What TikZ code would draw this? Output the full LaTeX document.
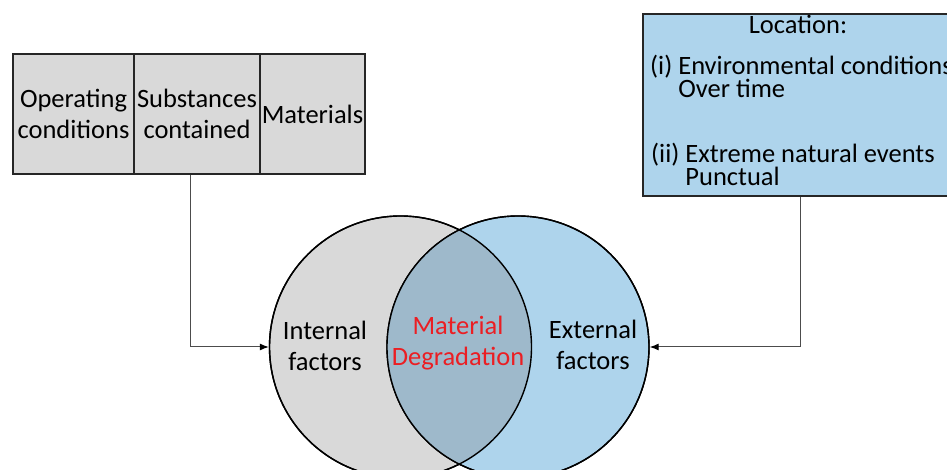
\documentclass[tikz,border=0pt]{standalone}
\usepackage{fontspec}
\setmainfont{Carlito}
\usetikzlibrary{arrows.meta}
\definecolor{boxgray}{RGB}{217,217,217}
\definecolor{boxblue}{RGB}{174,212,236}
\definecolor{overlap}{RGB}{158,185,203}
\definecolor{degred}{RGB}{235,30,35}
\begin{document}
\begin{tikzpicture}[x=1pt,y=1pt,
  txt/.style={font=\fontsize{26.5}{31}\selectfont, inner sep=0pt},
  item/.style={font=\fontsize{26.5}{23}\selectfont, inner sep=0pt, align=left, anchor=north west},
  cell/.style={draw=black!85, line width=1.2pt, fill=boxgray, minimum height=120pt,
    inner sep=0pt, align=center, font=\fontsize{26.5}{31}\selectfont},
  venn/.style={circle, draw=black, line width=1.4pt, minimum size=262pt, inner sep=0pt},
  conn/.style={draw=black!70, line width=1pt, -{Latex[length=9pt,width=7pt,color=black]}}]
\clip (0,0) rectangle (947,470);
\fill[white] (0,0) rectangle (947,470);
% left box
\node[cell, minimum width=121pt] (A) at (73.5,356) {Operating\\conditions};
\node[cell, minimum width=126pt] (B) at (197,356) {Substances\\contained};
\node[cell, minimum width=105pt] (C) at (312.5,356) {Materials};
% right box
\node[draw=black!85, line width=1.2pt, fill=boxblue, minimum width=310pt,
  minimum height=182pt, inner sep=0pt] (R) at (798,365) {};
\node[txt, anchor=base] (loc) at (798,436) {Location:};
\node[item] (i1) at (650,415) {(i) Environmental conditions\\\hphantom{(i) }Over time};
\node[item] (ii1) at (651,327) {(ii) Extreme natural events\\\hphantom{(ii) }Punctual};
% venn
\node[venn, fill=boxgray] (c1) at (400.5,123) {};
\node[venn, fill=boxblue] (c2) at (518,123) {};
\begin{scope}
  \clip (400.5,123) circle (131pt);
  \fill[overlap] (518,123) circle (131pt);
\end{scope}
\draw[black, line width=1.4pt] (400.5,123) circle (131pt);
\draw[black, line width=1.4pt] (518,123) circle (131pt);
\node[txt, align=center] (int) at (325,124) {Internal\\factors};
\node[txt, align=center, text=degred] (deg) at (458,127) {Material\\Degradation};
\node[txt, align=center] (ext) at (593,125) {External\\factors};
% connectors
\coordinate (k1) at (190,123);
\coordinate (k2) at (800,123);
\draw[conn] (B.south -| k1) -- (k1) -- (c1.west);
\draw[conn] (R.south -| k2) -- (k2) -- (c2.east);
\end{tikzpicture}
\end{document}
